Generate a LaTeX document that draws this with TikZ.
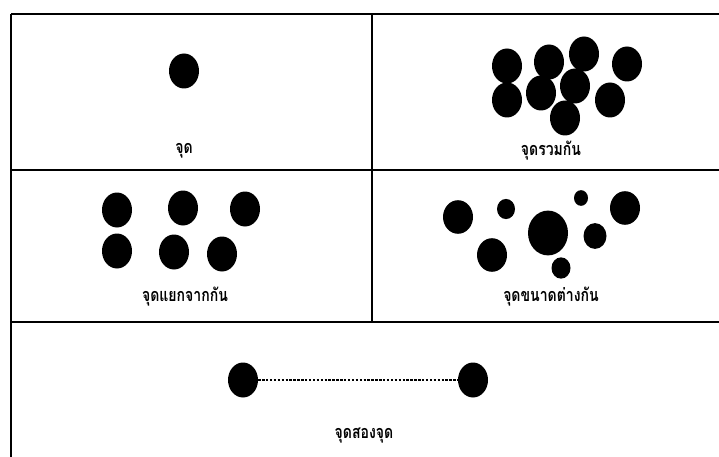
\documentclass[tikz,border=0pt]{standalone}
\usepackage{fontspec}
\newfontfamily\thaifont[Script=Thai,FakeStretch=0.78]{Loma}
\usetikzlibrary{shapes.geometric}
\begin{document}
\begin{tikzpicture}[x=1pt,y=-1pt,
  dotm/.style={ellipse,fill=black,inner sep=0pt,minimum width=30pt,minimum height=35pt},
  dotsz/.style={ellipse,fill=black,inner sep=0pt,minimum width=#1pt,minimum height=1.12*#1pt},
  lbl/.style={font=\thaifont\bfseries\fontsize{18}{20}\selectfont},
  frame/.style={line width=1.5pt,black}]
\useasboundingbox (0,0) rectangle (719,457);
% frame lines
\coordinate (tl) at (11,14);
\coordinate (tr) at (719,14);
\coordinate (bl) at (11,457);
\coordinate (m1l) at (11,170);
\coordinate (m1r) at (719,170);
\coordinate (m2l) at (11,322);
\coordinate (m2r) at (719,322);
\coordinate (vt) at (372,14);
\coordinate (vb) at (372,322);
\draw[frame,line width=1.9pt] (tl) -- (tr);
\draw[frame] (tl) -- (bl);
\draw[frame] (m1l) -- (m1r);
\draw[frame] (m2l) -- (m2r);
\draw[frame] (vt) -- (vb);
% panel 1
\node[dotm] (p1) at (184,71) {};
\node[lbl] (l1) at (184,151) {จุด};
% panel 2
\node[dotm] (c1) at (507,66) {};
\node[dotm] (c2) at (549,62) {};
\node[dotm] (c3) at (584,54) {};
\node[dotm] (c4) at (627,64) {};
\node[dotm] (c5) at (507,100) {};
\node[dotm] (c6) at (541,93) {};
\node[dotm] (c7) at (575,86) {};
\node[dotm] (c8) at (610,100) {};
\node[dotm] (c9) at (565,118) {};
\node[lbl] (l2) at (551,151) {จุดรวมกัน};
% panel 3
\node[dotm] (s1) at (117,210) {};
\node[dotm] (s2) at (183,208) {};
\node[dotm] (s3) at (245,209) {};
\node[dotm] (s4) at (117,251) {};
\node[dotm] (s5) at (174,252) {};
\node[dotm] (s6) at (222,254) {};
\node[lbl] (l3) at (185,297) {จุดแยกจากกัน};
% panel 4
\node[dotsz=30] (d1) at (458,217) {};
\node[dotsz=18] (d2) at (506,209) {};
\node[dotsz=40] (d3) at (548,233) {};
\node[dotsz=14] (d4) at (581,198) {};
\node[dotsz=30] (d5) at (625,208) {};
\node[dotsz=23] (d6) at (595,236) {};
\node[dotsz=30] (d7) at (492,255) {};
\node[dotsz=19] (d8) at (561,268) {};
\node[lbl] (l4) at (551,297) {จุดขนาดต่างกัน};
% panel 5
\node[dotm] (a) at (243,380) {};
\node[dotm] (b) at (473,380) {};
\draw[line width=1.8pt,dash pattern=on 2.4pt off 1.5pt] (a) -- (b);
\node[lbl] (l5) at (364,436) {จุดสองจุด};
\end{tikzpicture}
\end{document}
